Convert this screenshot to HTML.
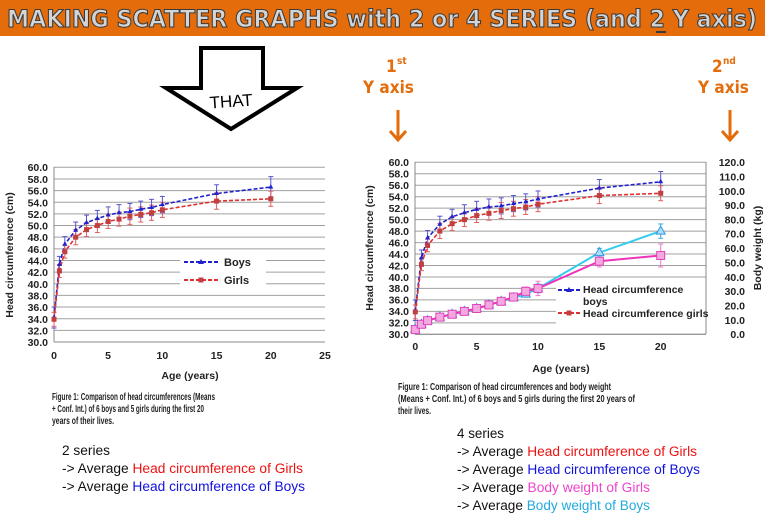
<!DOCTYPE html>
<html><head><meta charset="utf-8"><style>
html,body{margin:0;padding:0;background:#fff;}
svg{display:block;font-family:"Liberation Sans",sans-serif;}
</style></head><body>
<svg id="s" width="765" height="518" viewBox="0 0 765 518" xmlns="http://www.w3.org/2000/svg">
<rect x="0" y="0" width="765" height="36" fill="#e46c0a"/>
<text x="382" y="27" text-anchor="middle" font-size="24" font-weight="bold" font-family="DejaVu Sans Condensed, DejaVu Sans, sans-serif" fill="#d4d4d4" stroke="#3a3a3a" stroke-width="1" textLength="750" lengthAdjust="spacingAndGlyphs">MAKING SCATTER GRAPHS with 2 or 4 SERIES (and 2 Y axis)</text>
<line x1="656" y1="32" x2="666" y2="32" stroke="#3a3a3a" stroke-width="2"/>
<polygon points="201,48 263,48 263,88 297,88 231,129 166,88 201,88" fill="#fff" stroke="#000" stroke-width="4" stroke-linejoin="miter"/>
<text x="231" y="107" text-anchor="middle" font-size="17" fill="#000" transform="rotate(-4 231 100)">THAT</text>
<g fill="#e46c0a" font-weight="bold" font-family="DejaVu Sans Condensed, DejaVu Sans, sans-serif">
<text x="386" y="72" font-size="17">1</text><text x="397" y="64" font-size="10">st</text>
<text x="363" y="93" font-size="17">Y axis</text>
<text x="712" y="72" font-size="17">2</text><text x="723" y="64" font-size="10">nd</text>
<text x="698" y="93" font-size="17">Y axis</text>
</g>
<g stroke="#e46c0a" stroke-width="3" fill="none">
<line x1="398" y1="110" x2="398" y2="140"/><polyline points="390,131 398,140 406,131"/>
<line x1="730" y1="110" x2="730" y2="140"/><polyline points="722,131 730,140 738,131"/>
</g>

<g id="lgrid" stroke="#a0a0a0" stroke-width="1"></g>
<line x1="54" y1="167" x2="54" y2="342" stroke="#888"/>
<line x1="54" y1="342" x2="325" y2="342" stroke="#888"/>
<g font-size="10.5" font-weight="bold" fill="#222" text-anchor="end">
<text x="48" y="171">60.0</text><text x="48" y="183">58.0</text><text x="48" y="194.6">56.0</text><text x="48" y="206.3">54.0</text><text x="48" y="217.9">52.0</text><text x="48" y="229.6">50.0</text><text x="48" y="241.2">48.0</text><text x="48" y="252.9">46.0</text><text x="48" y="264.5">44.0</text><text x="48" y="276.2">42.0</text><text x="48" y="287.8">40.0</text><text x="48" y="299.5">38.0</text><text x="48" y="311.1">36.0</text><text x="48" y="322.8">34.0</text><text x="48" y="334.4">32.0</text><text x="48" y="346">30.0</text>
</g>
<g font-size="10.5" font-weight="bold" fill="#222" text-anchor="middle">
<text x="54" y="359">0</text><text x="108" y="359">5</text><text x="162.4" y="359">10</text><text x="216.6" y="359">15</text><text x="270.8" y="359">20</text><text x="325" y="359">25</text>
<text x="190" y="379">Age (years)</text>
</g>
<text transform="translate(13 255) rotate(-90)" text-anchor="middle" font-size="10.5" font-weight="bold" fill="#222">Head circumference (cm)</text>
<rect x="180" y="253" width="86" height="36" fill="#fff"/>
<line x1="184" y1="262" x2="218" y2="262" stroke="#2222cc" stroke-width="2" stroke-dasharray="4,2"/>
<polygon points="201,259 204,264 198,264" fill="#2222cc"/>
<text x="224" y="266" font-size="11" font-weight="bold" fill="#222">Boys</text>
<line x1="184" y1="280" x2="218" y2="280" stroke="#e03030" stroke-width="2" stroke-dasharray="4,2"/>
<rect x="198.5" y="277.5" width="5" height="5" fill="#c04040"/>
<text x="224" y="284" font-size="11" font-weight="bold" fill="#222">Girls</text>
<g id="lser"></g>

<g id="rgrid" stroke="#a0a0a0" stroke-width="1"></g>
<line x1="415" y1="162" x2="415" y2="334" stroke="#888"/>
<line x1="706" y1="162" x2="706" y2="334" stroke="#888"/>
<line x1="415" y1="334.3" x2="706" y2="334.3" stroke="#888"/>
<g font-size="10.5" font-weight="bold" fill="#222" text-anchor="end">
<text x="409" y="166">60.0</text><text x="409" y="177.5">58.0</text><text x="409" y="189">56.0</text><text x="409" y="200.5">54.0</text><text x="409" y="212">52.0</text><text x="409" y="223.4">50.0</text><text x="409" y="234.9">48.0</text><text x="409" y="246.4">46.0</text><text x="409" y="257.8">44.0</text><text x="409" y="269.3">42.0</text><text x="409" y="280.8">40.0</text><text x="409" y="292.2">38.0</text><text x="409" y="303.7">36.0</text><text x="409" y="315.2">34.0</text><text x="409" y="326.6">32.0</text><text x="409" y="338.1">30.0</text>
</g>
<g font-size="10.5" font-weight="bold" fill="#222" text-anchor="end">
<text x="745" y="166">120.0</text><text x="745" y="180.4">110.0</text><text x="745" y="194.8">100.0</text><text x="745" y="209.1">90.0</text><text x="745" y="223.4">80.0</text><text x="745" y="237.7">70.0</text><text x="745" y="252.1">60.0</text><text x="745" y="266.4">50.0</text><text x="745" y="280.8">40.0</text><text x="745" y="295.1">30.0</text><text x="745" y="309.4">20.0</text><text x="745" y="323.8">10.0</text><text x="745" y="338.1">0.0</text>
</g>
<g font-size="10.5" font-weight="bold" fill="#222" text-anchor="middle">
<text x="415.3" y="350">0</text><text x="476.6" y="350">5</text><text x="538" y="350">10</text><text x="599.4" y="350">15</text><text x="660.7" y="350">20</text>
<text x="561" y="372">Age (years)</text>
</g>
<text transform="translate(373 248) rotate(-90)" text-anchor="middle" font-size="10.5" font-weight="bold" fill="#222">Head circumference (cm)</text>
<text transform="translate(761 248) rotate(-90)" text-anchor="middle" font-size="10.5" font-weight="bold" fill="#222">Body weight (kg)</text>
<g id="rser"></g>
<rect x="556" y="283" width="149" height="42" fill="#fff"/>
<line x1="558" y1="290" x2="580" y2="290" stroke="#2222cc" stroke-width="2" stroke-dasharray="4,2"/>
<polygon points="569,287 572,292 566,292" fill="#2222cc"/>
<text x="583" y="293" font-size="10.5" font-weight="bold" fill="#222">Head circumference</text>
<text x="583" y="305" font-size="10.5" font-weight="bold" fill="#222">boys</text>
<line x1="558" y1="313" x2="580" y2="313" stroke="#e03030" stroke-width="2" stroke-dasharray="4,2"/>
<rect x="566.5" y="310.5" width="5" height="5" fill="#c04040"/>
<text x="583" y="317" font-size="10.5" font-weight="bold" fill="#222">Head circumference girls</text>

<g font-size="10" font-weight="bold" fill="#222">
<text x="52" y="400" textLength="163" lengthAdjust="spacingAndGlyphs">Figure 1: Comparison of head circumferences (Means</text>
<text x="52" y="412" textLength="152" lengthAdjust="spacingAndGlyphs">+ Conf. Int.) of 6 boys and 5 girls  during the first 20</text>
<text x="52" y="424" textLength="62" lengthAdjust="spacingAndGlyphs">years of their lives.</text>
<text x="398" y="390" textLength="213" lengthAdjust="spacingAndGlyphs">Figure 1: Comparison of head circumferences and body weight</text>
<text x="398" y="402" textLength="237" lengthAdjust="spacingAndGlyphs">(Means + Conf. Int.) of 6 boys and 5 girls  during the first 20 years of</text>
<text x="398" y="414" textLength="33" lengthAdjust="spacingAndGlyphs">their lives.</text>
</g>
<g font-size="13.5" fill="#111">
<text x="62" y="455" textLength="48" lengthAdjust="spacingAndGlyphs">2 series</text>
<text x="62" y="473" textLength="241" lengthAdjust="spacingAndGlyphs">-&gt; Average <tspan fill="#ee1111">Head circumference of Girls</tspan></text>
<text x="62" y="491" textLength="243" lengthAdjust="spacingAndGlyphs">-&gt; Average <tspan fill="#1111dd">Head circumference  of Boys</tspan></text>
<text x="457" y="438" textLength="47" lengthAdjust="spacingAndGlyphs">4 series</text>
<text x="457" y="456" textLength="240" lengthAdjust="spacingAndGlyphs">-&gt; Average <tspan fill="#ee1111">Head circumference of Girls</tspan></text>
<text x="457" y="474" textLength="243" lengthAdjust="spacingAndGlyphs">-&gt; Average <tspan fill="#1111dd">Head circumference  of Boys</tspan></text>
<text x="457" y="492" textLength="193" lengthAdjust="spacingAndGlyphs">-&gt; Average <tspan fill="#ee44cc">Body weight of Girls</tspan></text>
<text x="457" y="510" textLength="193" lengthAdjust="spacingAndGlyphs">-&gt; Average <tspan fill="#22aadd">Body weight of Boys</tspan></text>
</g>
</svg>
<script>
(function(){
var NS="http://www.w3.org/2000/svg";
function el(p,t,a){var e=document.createElementNS(NS,t);for(var k in a)e.setAttribute(k,a[k]);p.appendChild(e);return e;}
var ages=[0,0.5,1,2,3,4,5,6,7,8,9,10,15,20];
var boys=[34.2,43.3,46.8,49.2,50.5,51.2,51.8,52.2,52.4,52.8,53.1,53.6,55.5,56.6];
var girls=[33.9,42.2,45.5,48.0,49.3,50.0,50.7,51.1,51.6,51.9,52.2,52.7,54.2,54.6];
var be=[1.8,1.4,1.3,1.4,1.3,1.4,1.4,1.4,1.4,1.4,1.4,1.4,1.5,1.8];
var ge=[1.2,1.1,1.1,1.3,1.2,1.2,1.2,1.2,1.4,1.3,1.3,1.3,1.4,1.3];
var wb=[3.5,7,9.5,12,14,16,18,20.5,23,25.5,28,32,57,72];
var wg=[3.3,7,9.5,12,14,16,18,20.5,23,26,30,32,51,55];
var wbe=[0,0,0,0,0,0,0,0,0,0,2,3,3,5];
var wge=[0,0,0,0,0,0,0,0,0,0,3,5,4,8];
function chart(gid,sid,X,Y,x1,x2,legendHole){
  var g=document.getElementById(gid);
  for(var v=30;v<=60;v+=2){var y=Y(v);
    if(legendHole&&y>legendHole[0]&&y<legendHole[1]){el(g,'line',{x1:x1,y1:y,x2:legendHole[2],y2:y});}
    else el(g,'line',{x1:x1,y1:y,x2:x2,y2:y});}
  return document.getElementById(sid);
}
function series(s,X,Y,vals,errs,col,ecol,dashed,width){
  var i,p=[];
  for(i=0;i<vals.length;i++){var x=X(ages[i]),y=Y(vals[i]),d=errs[i]*(Y(0)-Y(1));
    if(errs[i]>0){el(s,'line',{x1:x,y1:y-d,x2:x,y2:y+d,stroke:ecol,'stroke-width':1});
    el(s,'line',{x1:x-2.5,y1:y-d,x2:x+2.5,y2:y-d,stroke:ecol,'stroke-width':1});
    el(s,'line',{x1:x-2.5,y1:y+d,x2:x+2.5,y2:y+d,stroke:ecol,'stroke-width':1});}
    p.push(x.toFixed(1)+','+y.toFixed(1));}
  var a={points:p.join(' '),fill:'none',stroke:col,'stroke-width':width||1.6};
  if(dashed)a['stroke-dasharray']='4,2';
  el(s,'polyline',a);
}
var LX=function(a){return 54+a*10.84},LY=function(v){return 342-(v-30)*5.823};
var ls=chart('lgrid','lser',LX,LY,54,325);
series(ls,LX,LY,boys,be,'#2222cc','#5555cc',1);
series(ls,LX,LY,girls,ge,'#e03030','#e06060',1);
for(var i=0;i<ages.length;i++){var x=LX(ages[i]),y=LY(boys[i]);
  el(ls,'polygon',{points:(x)+','+(y-3)+' '+(x+2.5)+','+(y+1.5)+' '+(x-2.5)+','+(y+1.5),fill:'#2222cc'});
  y=LY(girls[i]);el(ls,'rect',{x:x-2.5,y:y-2.5,width:5,height:5,fill:'#c04040'});}
var RX=function(a){return 415.3+a*12.27},RY=function(v){return 334.3-(v-30)*5.733},RW=function(w){return 334.3-w*1.433};
var rs=chart('rgrid','rser',RX,RY,415,706,[283,330,556]);
series(rs,RX,RW,wb,wbe,'#33ccee','#33aadd',0,2);
series(rs,RX,RW,wg,wge,'#ee33bb','#ee77cc',0,2);
for(var i=0;i<ages.length;i++){var x=RX(ages[i]),y=RW(wb[i]);
  el(rs,'polygon',{points:(x)+','+(y-5)+' '+(x+4.5)+','+(y+3)+' '+(x-4.5)+','+(y+3),fill:'#aaddff',stroke:'#3399dd','stroke-width':1});
  y=RW(wg[i]);el(rs,'rect',{x:x-4,y:y-4,width:8,height:8,fill:'#f5a8e0',stroke:'#dd44bb','stroke-width':1});}
series(rs,RX,RY,boys,be,'#2222cc','#5555cc',1);
series(rs,RX,RY,girls,ge,'#e03030','#e06060',1);
for(var i=0;i<ages.length;i++){var x=RX(ages[i]),y=RY(boys[i]);
  el(rs,'polygon',{points:(x)+','+(y-3)+' '+(x+2.5)+','+(y+1.5)+' '+(x-2.5)+','+(y+1.5),fill:'#2222cc'});
  y=RY(girls[i]);el(rs,'rect',{x:x-2.5,y:y-2.5,width:5,height:5,fill:'#c04040'});}
})();
</script>
</body></html>
